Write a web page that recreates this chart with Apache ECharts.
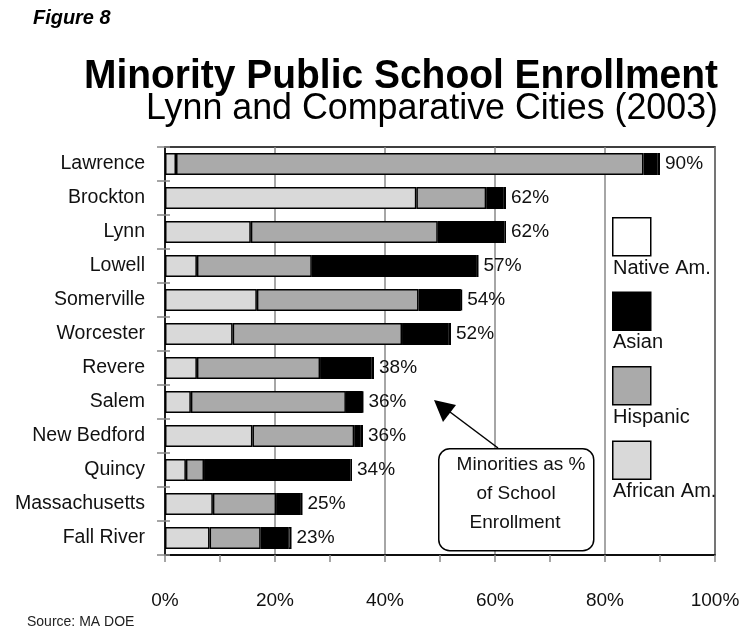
<!DOCTYPE html>
<html>
<head>
<meta charset="utf-8">
<script src="https://cdn.jsdelivr.net/npm/echarts@6/dist/echarts.min.js"></script>
<style>
  html, body { margin: 0; padding: 0; background: #fff; }
  #chart { width: 744px; height: 635px; }
</style>
</head>
<body>
<div id="chart"></div>
<script>
// Minority share of public school enrollment, 2003 (percent of all students)
const cities = ['Lawrence', 'Brockton', 'Lynn', 'Lowell', 'Somerville', 'Worcester',
  'Revere', 'Salem', 'New Bedford', 'Quincy', 'Massachusetts', 'Fall River'];
const africanAm = [2.0, 45.7, 15.6, 5.8, 16.7, 12.3, 5.8, 4.7, 15.9, 3.8, 8.7, 8.1];
const hispanic  = [85.0, 12.7, 34.0, 20.9, 29.4, 30.8, 22.4, 28.2, 18.5, 3.3, 11.5, 9.3];
const asian     = [2.5, 3.2, 12.1, 30.0, 7.7, 8.5, 9.3, 3.0, 1.2, 26.6, 4.5, 5.0];
const nativeAm  = [0.5, 0.4, 0.3, 0.3, 0.2, 0.4, 0.5, 0.1, 0.4, 0.3, 0.3, 0.6];
const totals    = [90, 62, 62, 57, 54, 52, 38, 36, 36, 34, 25, 23];
const xTicks = [0, 20, 40, 60, 80, 100];

const FONT = '"Liberation Sans", Arial, Helvetica, sans-serif';

function segment(name, values, color, withLabel) {
  const s = {
    name: name,
    type: 'bar',
    stack: 'minority',
    data: values,
    barWidth: 22,
    itemStyle: { color: color, borderColor: '#000', borderWidth: 1.5 },
    emphasis: { disabled: true },
    silent: true
  };
  if (withLabel) {
    s.label = {
      show: true,
      position: 'right',
      distance: 5,
      fontFamily: FONT,
      fontSize: 19,
      color: '#111',
      formatter: p => totals[p.dataIndex] + '%'
    };
  }
  return s;
}

// headings, drawn slightly condensed (scaled about their own anchor)
function heading(text, x, y, font, scaleX, align) {
  return {
    type: 'text', x: x, y: y, z: 10, scaleX: scaleX, originX: 0, originY: 0,
    style: { text: text, align: align, verticalAlign: 'middle', fill: '#000', font: font }
  };
}

// legend: swatch above its caption
const legendItems = [
  { name: 'Native Am.', color: '#ffffff' },
  { name: 'Asian', color: '#000000' },
  { name: 'Hispanic', color: '#aaaaaa' },
  { name: 'African Am.', color: '#d9d9d9' }
];
const legendGraphics = [];
legendItems.forEach((it, i) => {
  const y0 = 217 + i * 74.5;
  legendGraphics.push({
    type: 'rect', left: 612, top: y0, z: 10,
    shape: { width: 38, height: 38 },
    style: { fill: it.color, stroke: '#000', lineWidth: 1.5 }
  });
  legendGraphics.push({
    type: 'text', x: 613, y: y0 + 51, z: 10,
    style: { text: it.name, font: '20px ' + FONT, fill: '#111', verticalAlign: 'middle' }
  });
});

const chart = echarts.init(document.getElementById('chart'), null, { renderer: 'canvas' });
chart.setOption({
  animation: false,
  backgroundColor: '#fff',
  grid: {
    left: 165, right: 29, top: 147, bottom: 80,
    show: true, borderColor: '#000', borderWidth: 1.5, backgroundColor: 'transparent'
  },
  xAxis: {
    type: 'value', min: 0, max: 100, interval: 20,
    axisLine: { show: true, lineStyle: { color: '#000', width: 1.5 } },
    axisTick: { show: true, length: 7, lineStyle: { color: '#888', width: 1.5 } },
    minorTick: { show: true, splitNumber: 2, length: 7, lineStyle: { color: '#888', width: 1.5 } },
    splitLine: { show: true, lineStyle: { color: '#888', width: 1.5 } },
    axisLabel: {
      margin: 36, fontFamily: FONT, fontSize: 19, color: '#111',
      formatter: v => (xTicks.indexOf(v) >= 0 ? v + '%' : '')
    }
  },
  yAxis: [
    {
      type: 'category', data: cities, inverse: true,
      axisLine: { show: true, lineStyle: { color: '#000', width: 1.5 } },
      axisTick: { show: true, length: 8, lineStyle: { color: '#888', width: 1.5 } },
      axisLabel: { margin: 20, fontFamily: FONT, fontSize: 19.5, color: '#111' },
      splitLine: { show: false }
    },
    {
      type: 'category', data: cities, inverse: true, position: 'left',
      axisLine: { show: false },
      axisTick: { show: true, inside: true, length: 5, lineStyle: { color: '#888', width: 1.5 } },
      axisLabel: { show: false },
      splitLine: { show: false }
    }
  ],
  series: [
    segment('African Am.', africanAm, '#d9d9d9', false),
    segment('Hispanic', hispanic, '#aaaaaa', false),
    segment('Asian', asian, '#000000', false),
    segment('Native Am.', nativeAm, '#ffffff', true)
  ],
  graphic: legendGraphics.concat([
    heading('Figure 8', 33, 18, 'italic bold 21px ' + FONT, 0.95, 'left'),
    heading('Minority Public School Enrollment', 401, 77, 'bold 41px ' + FONT, 0.95, 'center'),
    heading('Lynn and Comparative Cities (2003)', 432, 109, 'normal 36px ' + FONT, 0.995, 'center'),
    {
      type: 'text', x: 27, y: 622, z: 10,
      style: { text: 'Source: MA DOE', verticalAlign: 'middle', fill: '#222', font: '14px ' + FONT }
    },
    // callout box with pointer toward the bars
    {
      type: 'line', z: 10,
      shape: { x1: 498, y1: 448, x2: 446, y2: 409 },
      style: { stroke: '#000', lineWidth: 1.5 }
    },
    {
      type: 'polygon', z: 10,
      shape: { points: [[434, 400], [456, 405], [443, 422]] },
      style: { fill: '#000' }
    },
    {
      type: 'rect', left: 438, top: 448, z: 10,
      shape: { width: 155, height: 102, r: 11 },
      style: { fill: '#fff', stroke: '#000', lineWidth: 1.5 }
    },
    {
      type: 'text', x: 521, y: 465, z: 11,
      style: { text: 'Minorities as %', font: '19px ' + FONT, fill: '#111', align: 'center', verticalAlign: 'middle' }
    },
    {
      type: 'text', x: 516, y: 494, z: 11,
      style: { text: 'of School', font: '19px ' + FONT, fill: '#111', align: 'center', verticalAlign: 'middle' }
    },
    {
      type: 'text', x: 515, y: 523, z: 11,
      style: { text: 'Enrollment', font: '19px ' + FONT, fill: '#111', align: 'center', verticalAlign: 'middle' }
    }
  ])
});
</script>
</body>
</html>
